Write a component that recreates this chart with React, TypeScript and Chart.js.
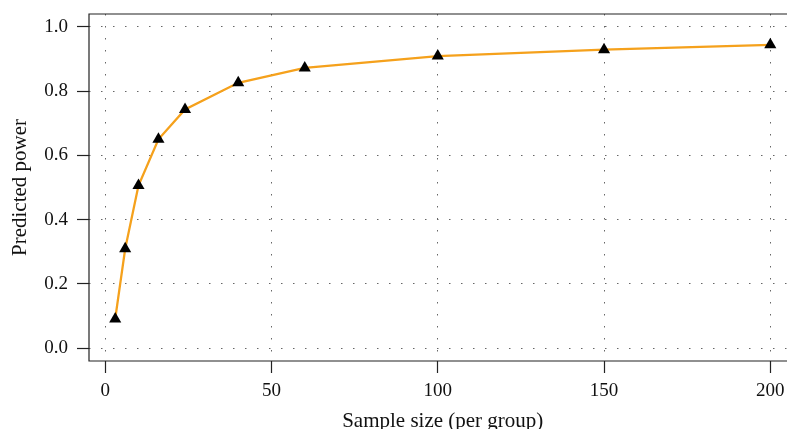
import React, { useEffect, useRef } from "react";
import { Chart, registerables } from "chart.js";

Chart.register(...registerables);

const sampleSizes = [3, 6, 10, 16, 24, 40, 60, 100, 150, 200];
const predictedPower = [0.091, 0.309, 0.506, 0.65, 0.743, 0.826, 0.872, 0.909, 0.929, 0.944];
const xTickValues = [0, 50, 100, 150, 200];
const yTickValues = [0, 0.2, 0.4, 0.6, 0.8, 1.0];
const xTitle = "Sample size (per group)";
const yTitle = "Predicted power";

const FONT = "'Liberation Serif', 'Times New Roman', serif";

// plot frame: left, top and bottom edges (the right edge lies outside the window)
const boxPlugin = {
  id: "boxFrame",
  afterDraw(chart: any) {
    const { ctx, chartArea } = chart;
    const { left, top, right, bottom } = chartArea;
    ctx.save();
    ctx.strokeStyle = "#222";
    ctx.lineWidth = 1.2;
    ctx.setLineDash([]);
    ctx.beginPath();
    ctx.moveTo(right, top);
    ctx.lineTo(left, top);
    ctx.lineTo(left, bottom);
    ctx.lineTo(right, bottom);
    ctx.stroke();
    ctx.restore();
  },
};

export default function App() {
  const ref = useRef<HTMLCanvasElement | null>(null);

  useEffect(() => {
    if (!ref.current) return;
    const chart = new Chart(ref.current, {
      type: "line",
      data: {
        datasets: [
          {
            data: sampleSizes.map((x, i) => ({ x, y: predictedPower[i] })),
            borderColor: "#F5A11C",
            borderWidth: 2.3,
            tension: 0,
            pointStyle: "triangle",
            pointRadius: 7,
            pointBackgroundColor: "#000",
            pointBorderColor: "#000",
            pointBorderWidth: 0,
          },
        ],
      },
      plugins: [boxPlugin],
      options: {
        animation: false,
        responsive: false,
        devicePixelRatio: 1,
        layout: { autoPadding: false, padding: { left: 0, right: 3.5, top: 14, bottom: 0 } },
        plugins: { legend: { display: false }, tooltip: { enabled: false } },
        scales: {
          x: {
            type: "linear",
            min: -4.88,
            max: 207.88,
            afterBuildTicks: (s: any) => {
              s.ticks = xTickValues.map((v) => ({ value: v }));
            },
            afterFit: (s: any) => {
              s.height = 68;
              s.paddingLeft = 0;
              s.paddingRight = 0;
              s.paddingTop = 0;
              s.paddingBottom = 0;
            },
            ticks: {
              color: "#111",
              font: { family: FONT, size: 19 },
              padding: 7,
              maxRotation: 0,
              autoSkip: false,
              callback: (v: any) => String(v),
            },
            grid: {
              color: "#666",
              lineWidth: 1,
              tickColor: "#222",
              tickWidth: 1.2,
              tickLength: 12,
            },
            border: { display: false, color: "#222", width: 1.2, dash: [1.5, 10.5] },
            title: {
              display: true,
              text: xTitle,
              color: "#111",
              font: { family: FONT, size: 21, lineHeight: 1.0 },
              padding: { top: 0, bottom: -2.5 },
            },
          },
          y: {
            type: "linear",
            min: -0.04,
            max: 1.04,
            afterBuildTicks: (s: any) => {
              s.ticks = yTickValues.map((v) => ({ value: v }));
            },
            afterFit: (s: any) => {
              s.width = 89;
              s.paddingLeft = 0;
              s.paddingRight = 0;
              s.paddingTop = 0;
              s.paddingBottom = 0;
            },
            ticks: {
              color: "#111",
              font: { family: FONT, size: 19 },
              padding: 9,
              autoSkip: false,
              callback: (v: any) => Number(v).toFixed(1),
            },
            grid: {
              color: "#666",
              lineWidth: 1,
              tickColor: "#222",
              tickWidth: 1.2,
              tickLength: 12,
            },
            border: { display: false, color: "#222", width: 1.2, dash: [1.5, 10.5] },
            title: {
              display: true,
              text: yTitle,
              color: "#111",
              font: { family: FONT, size: 21, lineHeight: 1.0 },
              padding: { top: 10, bottom: 0 },
            },
          },
        },
      },
    } as any);
    return () => chart.destroy();
  }, []);

  return (
    <div
      style={{
        position: "fixed",
        left: 0,
        top: 0,
        width: 787,
        height: 429,
        overflow: "hidden",
        background: "#fff",
      }}
    >
      <canvas ref={ref} width={800} height={429} style={{ display: "block" }} />
    </div>
  );
}
